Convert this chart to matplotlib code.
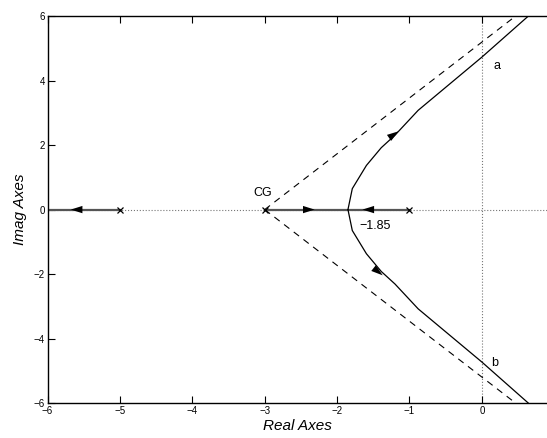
import numpy as np
import matplotlib.pyplot as plt

plt.rcParams['font.family'] = ['Liberation Sans', 'DejaVu Sans']

# open-loop poles and asymptote centre (CG)
poles = [-5.0, -3.0, -1.0]
cg = -3.0
breakaway = -1.85

# upper complex branch (lower one is its mirror image)
branch_x = [-1.85, -1.79, -1.595, -1.39, -1.20, -0.88, 0.0, 0.64]
branch_y = [0.0, 0.65, 1.37, 1.92, 2.31, 3.08, 4.73, 6.0]

# 60 degree asymptote, from CG to the top of the plot
asym_x = [cg, 0.464]
asym_y = [0.0, 6.0]

xticks = [-6, -5, -4, -3, -2, -1, 0]
yticks = [-6, -4, -2, 0, 2, 4, 6]

fig = plt.figure(figsize=(5.47, 4.38), dpi=100)
ax = fig.add_axes([0.087, 0.080, 0.913, 0.883])

# reference lines through the origin
ax.axhline(0, color='#777777', ls=':', lw=0.8, zorder=1)
ax.axvline(0, color='#777777', ls=':', lw=0.8, zorder=1)

# real axis parts of the locus
ax.plot([-6.2, poles[0]], [0, 0], color='#555555', lw=1.6, zorder=2)
ax.plot([cg, poles[2]], [0, 0], color='#555555', lw=1.6, zorder=2)

# asymptotes
ax.plot(asym_x, asym_y, color='k', lw=0.8, dashes=(6, 5))
ax.plot(asym_x, [-v for v in asym_y], color='k', lw=0.8, dashes=(6, 5))

# complex branches
bx = np.array(branch_x)
by = np.array(branch_y)
ax.plot(bx, by, color='k', lw=0.9)
ax.plot(bx, -by, color='k', lw=0.9)

# poles
ax.plot(poles, [0, 0, 0], 'x', color='k', ms=4, mew=0.9, zorder=4)

# direction arrows
def arrow(x0, y0, x1, y1):
    ax.annotate('', xy=(x1, y1), xytext=(x0, y0),
                arrowprops=dict(arrowstyle='-|>,head_length=0.7,head_width=0.22',
                                color='k', lw=0, mutation_scale=12,
                                shrinkA=0, shrinkB=0),
                zorder=5)

arrow(-5.3, 0, -5.68, 0)
arrow(-2.7, 0, -2.31, 0)
arrow(-1.3, 0, -1.65, 0)
arrow(-1.35, 2.12, -1.15, 2.43)
arrow(-1.55, -1.72, -1.37, -2.04)

ax.text(-3.03, 0.5, 'CG', fontsize=9, ha='center', va='center')
ax.text(-1.69, -0.5, '\u22121.85', fontsize=9, ha='left', va='center')
ax.text(0.21, 4.47, 'a', fontsize=9, ha='center', va='center')
ax.text(0.18, -4.77, 'b', fontsize=9, ha='center', va='center')

ax.set_xlim(-6, 0.9)
ax.set_ylim(-6, 6)
ax.set_xticks(xticks)
ax.set_yticks(yticks)
ax.tick_params(direction='in', length=5, width=0.8, labelsize=7,
               top=True, right=False, pad=2)
ax.spines['right'].set_visible(False)
for s in ['left', 'top', 'bottom']:
    ax.spines[s].set_linewidth(1.0)

ax.set_xlabel('Real Axes', fontsize=11, style='italic', labelpad=2)
ax.set_ylabel('Imag Axes', fontsize=11, style='italic', labelpad=5)

fig.savefig('out.png', dpi=100)
